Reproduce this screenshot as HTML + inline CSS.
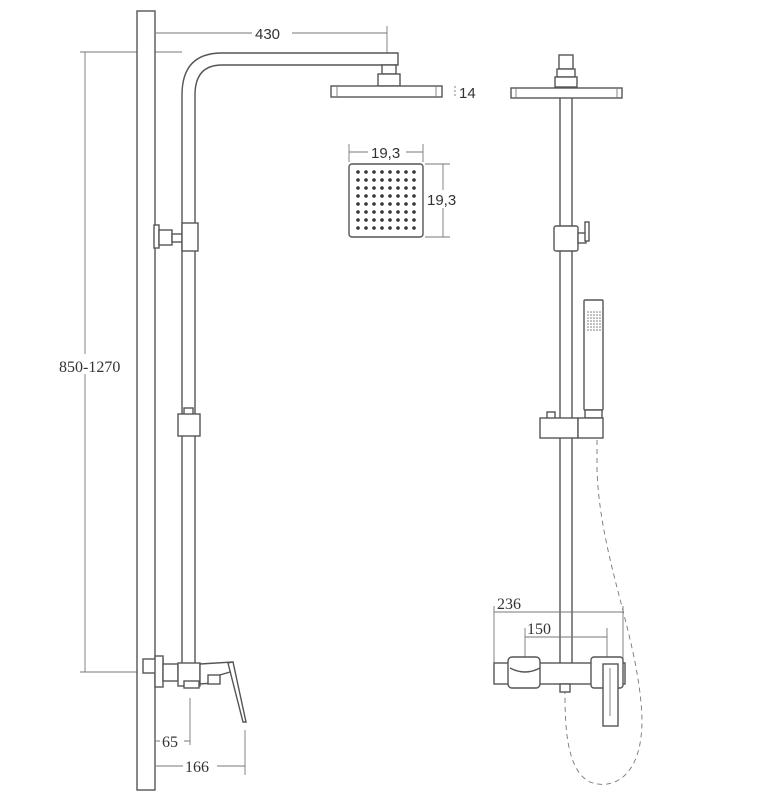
<!DOCTYPE html>
<html><head><style>
html,body{margin:0;padding:0;background:#fff;}
svg{display:block;}
.s{fill:#fff;stroke:#555;stroke-width:1.4;}
.l{stroke:#777;stroke-width:0.9;fill:none;}
.t{font-family:"Liberation Serif",serif;font-size:16px;fill:#333;}
.ts{font-family:"Liberation Sans",sans-serif;font-size:15px;fill:#333;}
</style></head><body>
<svg width="773" height="800" viewBox="0 0 773 800" xmlns="http://www.w3.org/2000/svg">
<line class="l" x1="85" y1="52" x2="85" y2="672"/>
<line class="l" x1="80" y1="52" x2="182" y2="52"/>
<line class="l" x1="80" y1="672" x2="150" y2="672"/>
<rect x="58" y="354" width="72" height="20" fill="#fff"/>
<text class="t" x="59" y="372">850-1270</text>
<rect class="s" x="137" y="11" width="18" height="779"/>
<line class="l" x1="155" y1="33" x2="387" y2="33"/>
<line class="l" x1="387" y1="26" x2="387" y2="55"/>
<rect x="252" y="24" width="40" height="18" fill="#fff"/>
<text class="ts" x="255" y="39">430</text>
<path class="s" d="M182 670 L182 95 Q182 53 222 53 L398 53 L398 65 L222 65 Q195 65 195 95 L195 670"/>
<rect class="s" x="382" y="65" width="14" height="9"/>
<rect class="s" x="378" y="74" width="22" height="12"/>
<rect class="s" x="331" y="86" width="111" height="11"/>
<line class="l" x1="337" y1="86" x2="337" y2="97"/><line class="l" x1="436" y1="86" x2="436" y2="97"/>
<line class="l" x1="455" y1="86" x2="455" y2="97" stroke-dasharray="2,2"/>
<text class="ts" x="459" y="98">14</text>
<line class="l" x1="349" y1="144" x2="349" y2="162"/><line class="l" x1="423" y1="144" x2="423" y2="162"/>
<line class="l" x1="349" y1="152" x2="423" y2="152"/>
<rect x="368" y="143" width="38" height="18" fill="#fff"/>
<text class="ts" x="371" y="158">19,3</text>
<rect class="s" x="349" y="164" width="74" height="73" rx="3"/>
<g fill="#333">
<g id="row">
<circle cx="358" cy="172" r="1.8"/><circle cx="366" cy="172" r="1.8"/><circle cx="374" cy="172" r="1.8"/><circle cx="382" cy="172" r="1.8"/><circle cx="390" cy="172" r="1.8"/><circle cx="398" cy="172" r="1.8"/><circle cx="406" cy="172" r="1.8"/><circle cx="414" cy="172" r="1.8"/>
</g>
<use href="#row" y="8"/><use href="#row" y="16"/><use href="#row" y="24"/><use href="#row" y="32"/><use href="#row" y="40"/><use href="#row" y="48"/><use href="#row" y="56"/>
</g>
<line class="l" x1="425" y1="164" x2="450" y2="164"/><line class="l" x1="425" y1="237" x2="450" y2="237"/>
<line class="l" x1="443" y1="164" x2="443" y2="237"/>
<rect x="427" y="190" width="34" height="18" fill="#fff"/>
<text class="ts" x="427" y="205">19,3</text>
<rect class="s" x="154" y="225" width="5" height="23"/>
<rect class="s" x="159" y="230" width="13" height="15"/>
<rect class="s" x="172" y="234" width="10" height="8"/>
<rect class="s" x="182" y="223" width="16" height="28"/>
<rect class="s" x="184" y="408" width="9" height="7"/>
<rect class="s" x="178" y="414" width="22" height="22"/>
<rect class="s" x="143" y="659" width="20" height="14"/>
<rect class="s" x="155" y="656" width="8" height="31"/>
<rect class="s" x="163" y="664" width="15" height="17"/>
<rect class="s" x="178" y="663" width="22" height="23"/>
<rect class="s" x="184" y="681" width="15" height="7"/>
<path class="s" d="M200 664 L232 662 L230 672 L220 675 L214 683 L200 684 Z"/>
<rect class="s" x="208" y="675" width="12" height="9"/>
<path class="s" d="M228 663 L233 662 L246 722 L243 722 Z"/>
<line class="l" x1="190" y1="698" x2="190" y2="745"/>
<line class="l" x1="245" y1="730" x2="245" y2="775"/>
<line class="l" x1="155" y1="741" x2="190" y2="741"/>
<line class="l" x1="155" y1="766" x2="245" y2="766"/>
<rect x="160" y="732" width="24" height="17" fill="#fff"/>
<text class="t" x="162" y="747">65</text>
<rect x="183" y="756" width="34" height="17" fill="#fff"/>
<text class="t" x="185" y="772">166</text>
<rect class="s" x="560" y="97" width="12" height="570"/>
<rect class="s" x="559" y="55" width="14" height="14"/>
<rect class="s" x="557" y="69" width="18" height="8"/>
<rect class="s" x="555" y="77" width="22" height="10"/>
<rect class="s" x="511" y="88" width="111" height="10"/>
<line class="l" x1="516" y1="88" x2="516" y2="98"/><line class="l" x1="617" y1="88" x2="617" y2="98"/>
<rect class="s" x="554" y="226" width="24" height="25" rx="2"/>
<rect class="s" x="578" y="233" width="8" height="10"/>
<rect class="s" x="585" y="222" width="4" height="19"/>
<rect class="s" x="584" y="300" width="19" height="110" rx="1"/>
<g fill="#777">
<g id="hr"><circle cx="588" cy="312" r="0.8"/><circle cx="591" cy="312" r="0.8"/><circle cx="594" cy="312" r="0.8"/><circle cx="597" cy="312" r="0.8"/><circle cx="600" cy="312" r="0.8"/></g>
<use href="#hr" y="3"/><use href="#hr" y="6"/><use href="#hr" y="9"/><use href="#hr" y="12"/><use href="#hr" y="15"/><use href="#hr" y="18"/>
</g>
<rect class="s" x="585" y="410" width="17" height="8"/>
<rect class="s" x="547" y="412" width="8" height="7"/>
<rect class="s" x="540" y="418" width="38" height="20"/>
<rect class="s" x="578" y="418" width="25" height="20"/>
<path class="l" stroke="#555" stroke-dasharray="5,4" d="M597 440 L597 470 C600 560 640 640 642 720 C642 780 610 790 590 782 C565 770 565 720 565 690"/>
<line class="l" x1="494" y1="612" x2="624" y2="612"/>
<line class="l" x1="494" y1="606" x2="494" y2="665"/>
<line class="l" x1="623" y1="606" x2="623" y2="665"/>
<line class="l" x1="525" y1="637" x2="607" y2="637"/>
<line class="l" x1="525" y1="628" x2="525" y2="660"/>
<line class="l" x1="607" y1="628" x2="607" y2="660"/>
<text class="t" x="497" y="609">236</text>
<text class="t" x="527" y="634">150</text>
<rect class="s" x="494" y="663" width="131" height="21"/>
<rect class="s" x="508" y="657" width="32" height="31" rx="4"/>
<path class="s" d="M510 668 Q525 676 540 668" />
<rect class="s" x="591" y="657" width="32" height="31" rx="3"/>
<rect class="s" x="603" y="664" width="15" height="62"/>
<line class="l" x1="610" y1="668" x2="610" y2="716" stroke="#555"/>
<rect class="s" x="560" y="684" width="10" height="8"/>
</svg>
</body></html>
